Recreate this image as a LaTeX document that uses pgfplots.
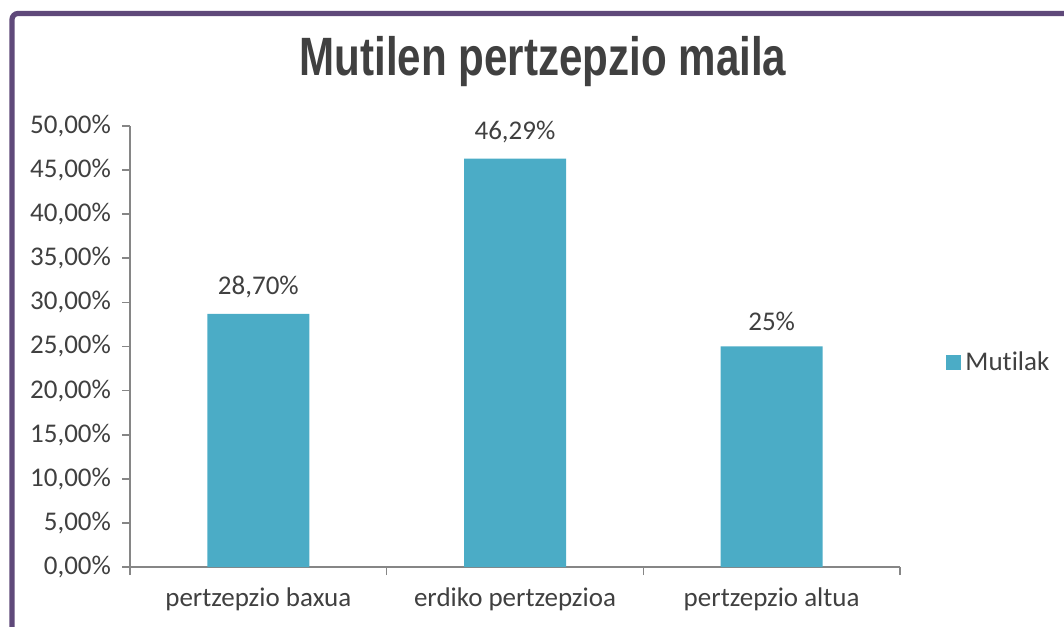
\documentclass[border=0pt]{standalone}
\usepackage{pgfplots}
\pgfplotsset{compat=1.18}
\usepackage{fontspec}
\setmainfont{Carlito}[RawFeature=-liga]
\newfontfamily\titlefont{Liberation Sans}[FakeStretch=0.78]
\definecolor{barc}{HTML}{4BACC6}
\definecolor{txt}{HTML}{404040}
\definecolor{axc}{HTML}{868686}
\definecolor{frm}{HTML}{5F497A}
\begin{document}
\begin{tikzpicture}
\path[use as bounding box] (0,0) rectangle (532pt,313pt);
\draw[frm, line width=2.6pt, rounded corners=3pt] (6pt,-2pt) -- (6pt,306.25pt) -- (534pt,306.25pt);
\begin{axis}[
  at={(65pt,29.5pt)}, anchor=south west,
  scale only axis, width=385pt, height=220.5pt,
  xmin=-0.5, xmax=2.5, ymin=0, ymax=50,
  axis x line=bottom, axis y line=left,
  axis line style={axc, line width=0.8pt, -},
  xtick={0,1,2},
  xticklabels={pertzepzio baxua, erdiko pertzepzioa, pertzepzio altua},
  minor xtick={-0.5,0.5,1.5,2.5},
  ytick={0,5,...,50},
  yticklabel={\pgfmathprintnumber[fixed,fixed zerofill,precision=2,use comma]{\tick}\%},
  /pgf/number format/assume math mode=true,
  tick label style={font=\fontsize{13.5}{15}\selectfont, text=txt},
  major x tick style={draw=none},
  minor tick length=4pt,
  major tick length=4pt,
  tick style={axc, line width=0.8pt},
  xtick align=outside, ytick align=outside,
  minor x tick style={axc, line width=0.8pt},
  xticklabel style={yshift=-3pt},
  yticklabel style={xshift=-2pt},
  ybar, bar width=51pt,
  nodes near coords, point meta=explicit symbolic,
  every node near coord/.append style={font=\fontsize{13.5}{15}\selectfont, text=txt, yshift=4.5pt},
  legend style={at={(rel axis cs:1.052,0.4626)}, anchor=west, draw=none, fill=none,
    font=\fontsize{13.5}{15}\selectfont, text=txt},
  legend image code/.code={\fill[barc] (0pt,-3.5pt) rectangle (7.5pt,4pt);},
]
\addplot[fill=barc, draw=none] coordinates {(0,28.70) [28,70\%] (1,46.29) [46,29\%] (2,25.00) [25\%]};
\addlegendentry{Mutilak}
\end{axis}
\node[font=\titlefont\bfseries\fontsize{27}{31}\selectfont, text=txt] at (271.5pt,282pt) {Mutilen pertzepzio maila};
\end{tikzpicture}
\end{document}
